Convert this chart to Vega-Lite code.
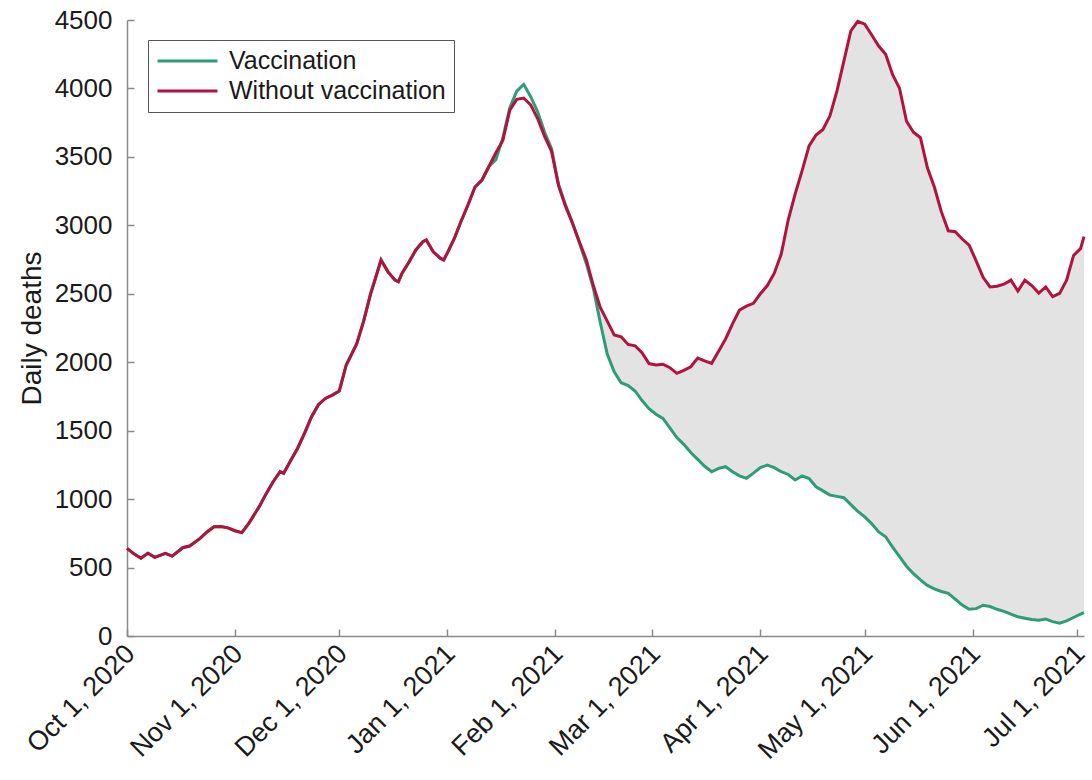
{
  "$schema": "https://vega.github.io/schema/vega-lite/v6.json",
  "width": 957,
  "height": 616,
  "autosize": {"type": "none"},
  "padding": {"left": 127, "top": 20, "right": 8, "bottom": 144},
  "background": "white",
  "config": {
    "view": {"stroke": null},
    "font": "Liberation Sans",
    "axis": {
      "grid": false,
      "domainColor": "#8a8a8a",
      "domainWidth": 1.5,
      "tickColor": "#8a8a8a",
      "tickWidth": 1.5,
      "tickSize": -7,
      "labelFontSize": 26,
      "labelColor": "#1a1a1a",
      "titleFontSize": 28,
      "titleFontWeight": "normal",
      "titleColor": "#1a1a1a"
    }
  },
  "data": {
    "values": [
      {"date": "2020-10-01", "without": 640, "vacc": 640},
      {"date": "2020-10-03", "without": 600, "vacc": 600},
      {"date": "2020-10-05", "without": 568, "vacc": 568},
      {"date": "2020-10-07", "without": 604, "vacc": 604},
      {"date": "2020-10-09", "without": 575, "vacc": 575},
      {"date": "2020-10-12", "without": 604, "vacc": 604},
      {"date": "2020-10-14", "without": 584, "vacc": 584},
      {"date": "2020-10-17", "without": 645, "vacc": 645},
      {"date": "2020-10-19", "without": 657, "vacc": 657},
      {"date": "2020-10-22", "without": 713, "vacc": 713},
      {"date": "2020-10-24", "without": 760, "vacc": 760},
      {"date": "2020-10-26", "without": 798, "vacc": 798},
      {"date": "2020-10-28", "without": 800, "vacc": 800},
      {"date": "2020-10-30", "without": 790, "vacc": 790},
      {"date": "2020-11-01", "without": 769, "vacc": 769},
      {"date": "2020-11-03", "without": 755, "vacc": 755},
      {"date": "2020-11-05", "without": 823, "vacc": 823},
      {"date": "2020-11-08", "without": 945, "vacc": 945},
      {"date": "2020-11-10", "without": 1040, "vacc": 1040},
      {"date": "2020-11-12", "without": 1127, "vacc": 1127},
      {"date": "2020-11-14", "without": 1200, "vacc": 1200},
      {"date": "2020-11-15", "without": 1188, "vacc": 1188},
      {"date": "2020-11-17", "without": 1280, "vacc": 1280},
      {"date": "2020-11-19", "without": 1370, "vacc": 1370},
      {"date": "2020-11-21", "without": 1480, "vacc": 1480},
      {"date": "2020-11-23", "without": 1600, "vacc": 1600},
      {"date": "2020-11-25", "without": 1690, "vacc": 1690},
      {"date": "2020-11-27", "without": 1735, "vacc": 1735},
      {"date": "2020-11-29", "without": 1760, "vacc": 1760},
      {"date": "2020-12-01", "without": 1790, "vacc": 1790},
      {"date": "2020-12-03", "without": 1980, "vacc": 1980},
      {"date": "2020-12-06", "without": 2133, "vacc": 2133},
      {"date": "2020-12-08", "without": 2300, "vacc": 2300},
      {"date": "2020-12-10", "without": 2500, "vacc": 2500},
      {"date": "2020-12-11", "without": 2580, "vacc": 2580},
      {"date": "2020-12-13", "without": 2747, "vacc": 2747},
      {"date": "2020-12-15", "without": 2660, "vacc": 2660},
      {"date": "2020-12-17", "without": 2600, "vacc": 2600},
      {"date": "2020-12-18", "without": 2588, "vacc": 2588},
      {"date": "2020-12-19", "without": 2649, "vacc": 2649},
      {"date": "2020-12-21", "without": 2730, "vacc": 2730},
      {"date": "2020-12-23", "without": 2820, "vacc": 2820},
      {"date": "2020-12-25", "without": 2880, "vacc": 2880},
      {"date": "2020-12-26", "without": 2893, "vacc": 2893},
      {"date": "2020-12-28", "without": 2807, "vacc": 2807},
      {"date": "2020-12-30", "without": 2760, "vacc": 2760},
      {"date": "2020-12-31", "without": 2747, "vacc": 2747},
      {"date": "2021-01-01", "without": 2795, "vacc": 2795},
      {"date": "2021-01-03", "without": 2900, "vacc": 2900},
      {"date": "2021-01-05", "without": 3030, "vacc": 3030},
      {"date": "2021-01-07", "without": 3150, "vacc": 3150},
      {"date": "2021-01-09", "without": 3280, "vacc": 3280},
      {"date": "2021-01-11", "without": 3331, "vacc": 3331},
      {"date": "2021-01-13", "without": 3430, "vacc": 3430},
      {"date": "2021-01-15", "without": 3530, "vacc": 3480},
      {"date": "2021-01-17", "without": 3620, "vacc": 3640},
      {"date": "2021-01-19", "without": 3842, "vacc": 3860},
      {"date": "2021-01-21", "without": 3920, "vacc": 3980},
      {"date": "2021-01-23", "without": 3930, "vacc": 4030},
      {"date": "2021-01-25", "without": 3880, "vacc": 3940},
      {"date": "2021-01-27", "without": 3780, "vacc": 3830},
      {"date": "2021-01-29", "without": 3650, "vacc": 3680},
      {"date": "2021-01-31", "without": 3540, "vacc": 3560},
      {"date": "2021-02-02", "without": 3290, "vacc": 3300},
      {"date": "2021-02-04", "without": 3140, "vacc": 3150},
      {"date": "2021-02-06", "without": 3015, "vacc": 3020},
      {"date": "2021-02-08", "without": 2880, "vacc": 2870},
      {"date": "2021-02-10", "without": 2747, "vacc": 2720},
      {"date": "2021-02-12", "without": 2560, "vacc": 2540},
      {"date": "2021-02-14", "without": 2400, "vacc": 2290},
      {"date": "2021-02-16", "without": 2300, "vacc": 2060},
      {"date": "2021-02-18", "without": 2199, "vacc": 1930},
      {"date": "2021-02-20", "without": 2186, "vacc": 1850},
      {"date": "2021-02-22", "without": 2130, "vacc": 1830},
      {"date": "2021-02-24", "without": 2120, "vacc": 1790},
      {"date": "2021-02-26", "without": 2070, "vacc": 1720},
      {"date": "2021-02-28", "without": 1990, "vacc": 1660},
      {"date": "2021-03-02", "without": 1980, "vacc": 1620},
      {"date": "2021-03-04", "without": 1985, "vacc": 1590},
      {"date": "2021-03-06", "without": 1960, "vacc": 1520},
      {"date": "2021-03-08", "without": 1919, "vacc": 1450},
      {"date": "2021-03-10", "without": 1940, "vacc": 1400},
      {"date": "2021-03-12", "without": 1967, "vacc": 1340},
      {"date": "2021-03-14", "without": 2030, "vacc": 1290},
      {"date": "2021-03-16", "without": 2010, "vacc": 1240},
      {"date": "2021-03-18", "without": 1992, "vacc": 1200},
      {"date": "2021-03-20", "without": 2080, "vacc": 1225},
      {"date": "2021-03-22", "without": 2170, "vacc": 1237},
      {"date": "2021-03-24", "without": 2280, "vacc": 1200},
      {"date": "2021-03-26", "without": 2381, "vacc": 1170},
      {"date": "2021-03-28", "without": 2410, "vacc": 1152},
      {"date": "2021-03-30", "without": 2430, "vacc": 1190},
      {"date": "2021-04-01", "without": 2500, "vacc": 1230},
      {"date": "2021-04-03", "without": 2560, "vacc": 1249},
      {"date": "2021-04-05", "without": 2650, "vacc": 1230},
      {"date": "2021-04-07", "without": 2790, "vacc": 1200},
      {"date": "2021-04-09", "without": 3039, "vacc": 1180},
      {"date": "2021-04-11", "without": 3230, "vacc": 1140},
      {"date": "2021-04-13", "without": 3400, "vacc": 1170},
      {"date": "2021-04-15", "without": 3580, "vacc": 1150},
      {"date": "2021-04-17", "without": 3660, "vacc": 1090},
      {"date": "2021-04-19", "without": 3700, "vacc": 1060},
      {"date": "2021-04-21", "without": 3800, "vacc": 1030},
      {"date": "2021-04-23", "without": 3980, "vacc": 1020},
      {"date": "2021-04-25", "without": 4200, "vacc": 1010},
      {"date": "2021-04-27", "without": 4420, "vacc": 960},
      {"date": "2021-04-29", "without": 4490, "vacc": 910},
      {"date": "2021-05-01", "without": 4470, "vacc": 870},
      {"date": "2021-05-03", "without": 4390, "vacc": 820},
      {"date": "2021-05-05", "without": 4310, "vacc": 760},
      {"date": "2021-05-07", "without": 4250, "vacc": 725},
      {"date": "2021-05-09", "without": 4100, "vacc": 650},
      {"date": "2021-05-11", "without": 4000, "vacc": 579},
      {"date": "2021-05-13", "without": 3760, "vacc": 510},
      {"date": "2021-05-15", "without": 3680, "vacc": 455},
      {"date": "2021-05-17", "without": 3640, "vacc": 410},
      {"date": "2021-05-19", "without": 3420, "vacc": 370},
      {"date": "2021-05-21", "without": 3280, "vacc": 345},
      {"date": "2021-05-23", "without": 3100, "vacc": 325},
      {"date": "2021-05-25", "without": 2960, "vacc": 312},
      {"date": "2021-05-27", "without": 2953, "vacc": 270},
      {"date": "2021-05-29", "without": 2900, "vacc": 226},
      {"date": "2021-05-31", "without": 2856, "vacc": 195},
      {"date": "2021-06-02", "without": 2740, "vacc": 200},
      {"date": "2021-06-04", "without": 2620, "vacc": 225},
      {"date": "2021-06-06", "without": 2550, "vacc": 215},
      {"date": "2021-06-08", "without": 2555, "vacc": 195},
      {"date": "2021-06-10", "without": 2570, "vacc": 180},
      {"date": "2021-06-12", "without": 2600, "vacc": 160},
      {"date": "2021-06-14", "without": 2520, "vacc": 141},
      {"date": "2021-06-16", "without": 2600, "vacc": 130},
      {"date": "2021-06-18", "without": 2560, "vacc": 120},
      {"date": "2021-06-20", "without": 2505, "vacc": 115},
      {"date": "2021-06-22", "without": 2550, "vacc": 124},
      {"date": "2021-06-24", "without": 2480, "vacc": 105},
      {"date": "2021-06-26", "without": 2503, "vacc": 93},
      {"date": "2021-06-28", "without": 2600, "vacc": 110},
      {"date": "2021-06-30", "without": 2780, "vacc": 135},
      {"date": "2021-07-02", "without": 2830, "vacc": 160},
      {"date": "2021-07-03", "without": 2917, "vacc": 170}
    ]
  },
  "encoding": {
    "x": {
      "field": "date",
      "type": "temporal",
      "scale": {
        "type": "utc",
        "domain": [
          {"year": 2020, "month": 10, "date": 1, "utc": true},
          {"year": 2021, "month": 7, "date": 3, "utc": true}
        ]
      },
      "axis": {
        "title": null,
        "format": "%b %-d, %Y",
        "tickCount": {"interval": "month", "step": 1},
        "labelFontSize": 27,
        "labelAngle": -45,
        "labelAlign": "right",
        "labelBaseline": "top",
        "labelPadding": 11,
        "labelOffset": -6,
        "labelFlush": false,
        "labelOverlap": false
      }
    }
  },
  "layer": [
    {
      "transform": [{"filter": "datum.date >= utc(2021, 1, 10)"}],
      "mark": {"type": "area", "color": "#e3e3e3"},
      "encoding": {
        "y": {"field": "vacc", "type": "quantitative"},
        "y2": {"field": "without"}
      }
    },
    {
      "data": {"values": [{"event": "vaccination start"}]},
      "mark": {"type": "rule", "color": "#4a9ad6", "strokeWidth": 2.5},
      "encoding": {
        "x": {"datum": {"year": 2020, "month": 12, "date": 11, "utc": true}, "type": "temporal"}
      }
    },
    {
      "mark": {"type": "line", "strokeWidth": 3},
      "encoding": {
        "y": {
          "field": "vacc",
          "type": "quantitative",
          "scale": {"domain": [0, 4500], "nice": false},
          "axis": {
            "title": "Daily deaths",
            "format": "d",
            "values": [0, 500, 1000, 1500, 2000, 2500, 3000, 3500, 4000, 4500],
            "labelPadding": 22,
            "titlePadding": 8
          }
        },
        "color": {"datum": "Vaccination"}
      }
    },
    {
      "mark": {"type": "line", "strokeWidth": 3},
      "encoding": {
        "y": {"field": "without", "type": "quantitative"},
        "color": {
          "datum": "Without vaccination",
          "scale": {
            "domain": ["Vaccination", "Without vaccination"],
            "range": ["#2f9c78", "#b3123e"]
          },
          "legend": {
            "title": null,
            "orient": "none",
            "legendX": 21,
            "legendY": 20,
            "symbolType": "stroke",
            "symbolSize": 3600,
            "symbolStrokeWidth": 3,
            "clipHeight": 26,
            "labelFontSize": 25,
            "labelLimit": 400,
            "labelColor": "#1a1a1a",
            "fillColor": "white",
            "strokeColor": "#555555",
            "padding": 8,
            "rowPadding": 4,
            "labelOffset": 10
          }
        }
      }
    }
  ]
}
